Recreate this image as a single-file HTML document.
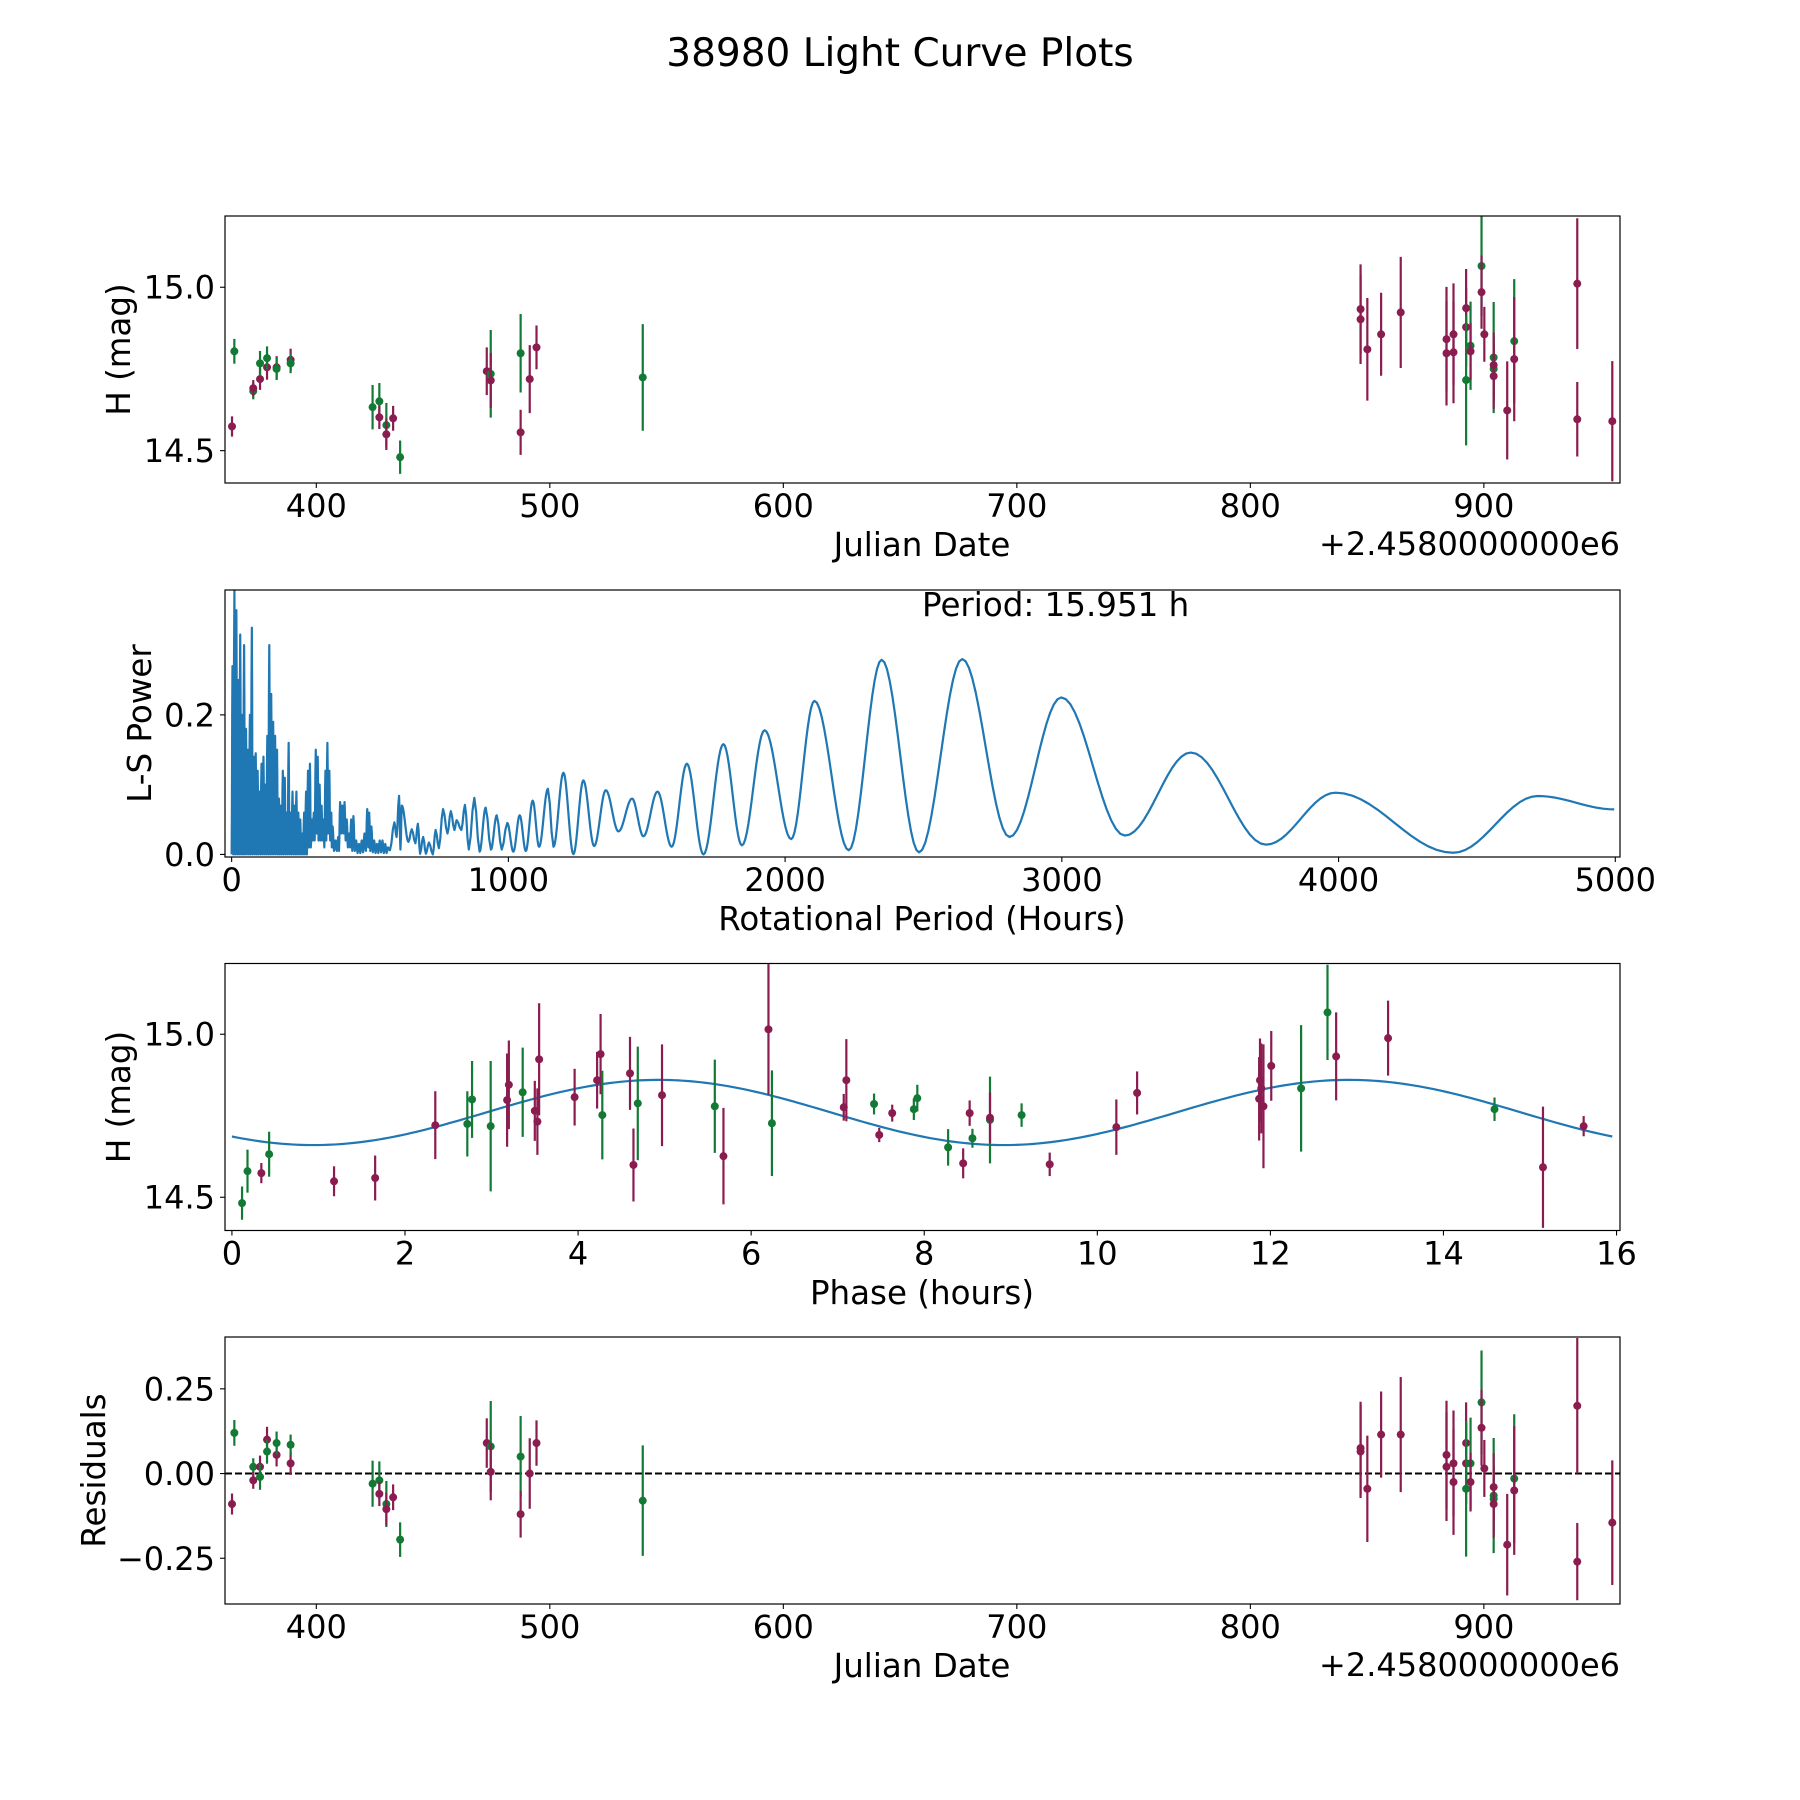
<!DOCTYPE html>
<html><head><meta charset="utf-8"><title>38980 Light Curve Plots</title>
<style>html,body{margin:0;padding:0;background:#fff}svg{display:block}text{font-family:"DejaVu Sans","Liberation Sans",sans-serif;fill:#000}</style>
</head><body>
<svg id="fig" xmlns="http://www.w3.org/2000/svg" width="1800" height="1800" viewBox="0 0 1800 1800">
<rect width="1800" height="1800" fill="#fff"/>
<text x="900" y="66" font-size="39" text-anchor="middle">38980 Light Curve Plots</text>
</svg>
<script>
// ---- Light curve data (JD - 2458000) ----
const jd   = [363.9,364.9,373,373,375.9,375.9,378.9,378.9,383,383,389,389,424.1,427,427,430,430,432.9,435.9,473,474.7,474.7,487.5,487.5,491.4,494.3,539.8,847.2,847.2,850.1,856,864.4,884,884,887,887,892.4,892.4,892.4,894.3,894.3,899,899,900.2,904.2,904.2,904.2,904.2,910,913,913,940,940,955];
const mag  = [14.574,14.804,14.682,14.691,14.719,14.767,14.755,14.783,14.755,14.75,14.778,14.767,14.633,14.651,14.602,14.578,14.55,14.599,14.48,14.743,14.735,14.715,14.798,14.556,14.719,14.816,14.724,14.933,14.902,14.81,14.856,14.923,14.841,14.798,14.856,14.801,14.936,14.878,14.716,14.821,14.804,15.065,14.985,14.856,14.785,14.75,14.762,14.728,14.623,14.835,14.78,15.011,14.596,14.59];
const magErr = [0.031,0.038,0.025,0.025,0.033,0.038,0.038,0.036,0.034,0.034,0.034,0.03,0.068,0.056,0.036,0.068,0.048,0.038,0.051,0.073,0.134,0.084,0.12,0.069,0.104,0.067,0.163,0.137,0.137,0.157,0.127,0.17,0.16,0.16,0.156,0.156,0.12,0.12,0.2,0.135,0.087,0.153,0.112,0.084,0.17,0.1,0.1,0.1,0.15,0.19,0.19,0.2,0.114,0.184];
const filt = ['M','G','G','M','M','G','M','G','M','G','M','G','G','G','M','G','M','M','G','M','G','M','G','M','M','M','G','M','M','M','M','M','M','M','M','M','M','M','G','G','M','G','M','M','G','G','M','M','M','G','M','M','M','M'];
const resid = [-0.09,0.12,0.02,-0.02,0.02,-0.01,0.10,0.065,0.055,0.09,0.03,0.085,-0.03,-0.02,-0.06,-0.09,-0.105,-0.07,-0.195,0.09,0.08,0.005,0.05,-0.12,0.0,0.09,-0.08,0.075,0.065,-0.045,0.115,0.115,0.055,0.02,0.03,-0.025,0.09,0.03,-0.045,0.03,-0.025,0.21,0.135,0.015,-0.065,-0.075,-0.04,-0.09,-0.21,-0.015,-0.05,0.2,-0.26,-0.145];
// ---- Phased data ----
const phase = [0.117,0.18,0.34,0.43,1.18,1.655,2.35,2.72,2.775,2.99,3.18,3.2,3.36,3.5,3.53,3.55,3.96,4.22,4.26,4.28,4.6,4.64,4.69,4.97,5.58,5.68,6.2,6.24,7.07,7.1,7.42,7.48,7.63,7.88,7.92,8.276,8.45,8.557,8.525,8.76,8.76,9.125,9.45,10.22,10.46,11.87,11.88,11.895,11.92,12.01,12.355,12.66,12.76,13.36,14.59,15.15,15.62];
const phMag = [14.482,14.58,14.574,14.632,14.549,14.559,14.721,14.725,14.80,14.718,14.798,14.845,14.822,14.765,14.732,14.923,14.807,14.859,14.939,14.752,14.88,14.599,14.788,14.813,14.779,14.626,15.015,14.727,14.776,14.859,14.786,14.691,14.758,14.77,14.804,14.653,14.604,14.681,14.758,14.737,14.744,14.752,14.601,14.715,14.82,14.802,14.859,14.834,14.779,14.903,14.834,15.067,14.932,14.988,14.77,14.592,14.718];
const phErr = [0.051,0.066,0.031,0.069,0.046,0.069,0.104,0.1,0.118,0.2,0.143,0.136,0.137,0.092,0.102,0.172,0.087,0.087,0.123,0.136,0.112,0.112,0.174,0.156,0.143,0.148,0.2,0.162,0.041,0.126,0.032,0.022,0.026,0.033,0.041,0.056,0.046,0.029,0.039,0.133,0.077,0.036,0.036,0.085,0.066,0.128,0.128,0.138,0.19,0.107,0.194,0.146,0.135,0.115,0.036,0.186,0.031];
const phFilt = ['G','G','M','G','M','M','M','G','G','G','M','M','G','M','M','M','M','M','M','G','M','M','G','M','G','M','M','G','M','M','G','M','M','G','G','G','M','G','M','G','M','G','M','M','M','M','M','M','M','M','G','G','M','M','G','M','M'];
// fitted model parameters
const modelMean = 14.76, modelAmp = 0.10, modelPeakPhase = 4.93, rotPeriod = 15.951;
// ---- Lomb-Scargle periodogram vertices ----
const lsPeriod = [0,3,6,10,13,17,20,24,27,31,34,38,41,45,48,52,55,59,62,66,69,73,76,80,83,87,90,94,97,101,104,108,111,115,118,122,125,129,132,136,139,143,146,150,153,157,160,164,167,171,174,178,181,185,188,192,195,199,202,206,209,213,216,220,223,227,230,234,237,241,244,248,251,255,258,262,265,269,272,276,279,283,286,290,293,297,300,304,307,311,314,318,321,325,328,332,335,339,342,346,349,353,356,360,362,365,370,375,380,385,388,392,396,400,404,408,412,416,420,424,428,432,436,440,445,450,455,460,465,470,475,480,485,490,494,497,501,505,510,515,520,525,530,535,540,545,550,555,560,565,572,588,596,605,610,615,639,651,664,673,681,692,702,713,727,737,749,764,780,792,805,813,830,843,857,877,896,918,937,958,976,996,1018,1041,1063,1088,1111,1143,1163,1199,1235,1271,1310,1352,1398,1447,1488,1539,1590,1645,1705,1777,1844,1926,2022,2106,2230,2349,2484,2640,2811,2998,3228,3466,3738,3989,4414,4720,4996];
const lsPower = [0,0.27,0.0,0.379,0.0,0.35,0.0,0.25,0.0,0.315,0.0,0.2,0.0,0.30,0.0,0.18,0,0.15,0.0,0.2,0,0.325,0.0,0.14,0,0.145,0.0,0.12,0,0.09,0.0,0.13,0,0.14,0.0,0.1,0,0.17,0.0,0.30,0.0,0.23,0.0,0.19,0,0.17,0.0,0.15,0,0.08,0.0,0.07,0,0.12,0.0,0.11,0,0.06,0,0.16,0,0.06,0,0.09,0.0,0.07,0,0.09,0,0.06,0,0.05,0,0.03,0,0.06,0.0,0.09,0,0.12,0.01,0.13,0.01,0.05,0.02,0.06,0.02,0.15,0.03,0.14,0.02,0.1,0.02,0.07,0.02,0.05,0.01,0.12,0.02,0.16,0.03,0.12,0.02,0.06,0.01,0.04,0.005,0.02,0.005,0.025,0.005,0.075,0.03,0.07,0.03,0.075,0.02,0.05,0.01,0.03,0.01,0.05,0.005,0.055,0.005,0.02,0.002,0.015,0.002,0.02,0.003,0.03,0.005,0.065,0.01,0.06,0.005,0.04,0.003,0.02,0.002,0.015,0.002,0.02,0.003,0.02,0.002,0.015,0.002,0.01,0.006,0.046,0.025,0.084,0.007,0.070,0.018,0.036,0.016,0.044,0.001,0.025,0.001,0.017,0,0.035,0.009,0.065,0.03,0.062,0.035,0.049,0.035,0.071,0.007,0.081,0.004,0.067,0.007,0.056,0.007,0.045,0.004,0.056,0.005,0.077,0.011,0.094,0.011,0.117,0.0005,0.106,0.012,0.092,0.033,0.080,0.026,0.090,0.011,0.130,0,0.158,0.013,0.178,0.022,0.22,0.006,0.279,0.003,0.28,0.025,0.225,0.027,0.146,0.014,0.0885,0.0024,0.0837,0.0646];
// ---- ticks ----
const jdTicks = [400,500,600,700,800,900];
const magTicks = [14.5,15.0];
const lsXTicks = [0,1000,2000,3000,4000,5000];
const lsYTicks = [0.0,0.2];
const phTicks = [0,2,4,6,8,10,12,14,16];
const resTicks = [-0.25,0.00,0.25];

const NS='http://www.w3.org/2000/svg';
const svg=document.getElementById('fig');
const COL={M:'#8a1c50',G:'#137a36'};
const TICKFS=32, LABFS=32.5;
function el(tag,attrs,parent){const e=document.createElementNS(NS,tag);for(const k in attrs)e.setAttribute(k,attrs[k]);(parent||svg).appendChild(e);return e;}
function lin(d0,d1,p0,p1){return v=>p0+(v-d0)*(p1-p0)/(d1-d0);}

const L=225,R=1620;
const panels=[[216,483],[590,857],[963.5,1230.5],[1337,1604]];

function makePanel(i,name){
  const [t,b]=panels[i];
  const g=el('g',{});
  
  
  const cp=el('clipPath',{id:'clip'+i},g);
  el('rect',{x:L,y:t,width:R-L,height:b-t},cp);
  const plot=el('g',{'clip-path':'url(#clip'+i+')'},g);
  return {g,plot,t,b};
}
function frame(p){
  const f=el('rect',{x:L,y:p.t,width:R-L,height:p.b-p.t,fill:'none',stroke:'#000','stroke-width':1.2},p.g);
  
  
}
function xTicks(p,ticks,sx,fmt){
  ticks.forEach(v=>{const x=sx(v);
    const ln=el('line',{x1:x,x2:x,y1:p.b,y2:p.b+5,stroke:'#000','stroke-width':1.1},p.g);
    
    
    const tx=el('text',{x:x,y:p.b+34,'font-size':TICKFS,'text-anchor':'middle'},p.g);
    tx.textContent=fmt(v);
    
    
  });
}
function yTicks(p,ticks,sy,fmt){
  ticks.forEach(v=>{const y=sy(v);
    const ln=el('line',{x1:L-5,x2:L,y1:y,y2:y,stroke:'#000','stroke-width':1.1},p.g);
    
    
    const tx=el('text',{x:L-10,y:y+11.5,'font-size':TICKFS,'text-anchor':'end'},p.g);
    tx.textContent=fmt(v);
    
    
  });
}
function label(p,txt,x,y,rot,name){
  const tx=el('text',{x:x,y:y,'font-size':LABFS,'text-anchor':'middle'},p.g);
  if(rot)tx.setAttribute('transform','rotate(-90 '+x+' '+y+')');
  tx.textContent=txt;
  
  
}
function errPoints(p,xs,ys,es,fs,sx,sy,name){
  xs.forEach((xv,k)=>{
    const c=COL[fs[k]];const x=sx(xv);
    const ln=el('line',{x1:x,x2:x,y1:sy(ys[k]-es[k]),y2:sy(ys[k]+es[k]),stroke:c,'stroke-width':2.2},p.plot);
    
    
    const ci=el('circle',{cx:x,cy:sy(ys[k]),r:4,fill:c},p.plot);
    
    
  });
}
const f1=v=>v.toFixed(1);

// Panel 1: light curve
{
  const p=makePanel(0,'light-curve-panel');
  const sx=lin(360.9,958.3,L,R), sy=lin(14.401,15.218,p.b,p.t);
  errPoints(p,jd,mag,magErr,filt,sx,sy,'light-curve');
  frame(p);
  xTicks(p,jdTicks,sx,v=>String(v));
  yTicks(p,magTicks,sy,f1);
  label(p,'Julian Date',922,556,false,'x-axis-title');
  label(p,'H (mag)',130,(p.t+p.b)/2,true,'y-axis-title');
  const o=el('text',{x:R,y:555,'font-size':TICKFS,'text-anchor':'end'},p.g);
  o.textContent='+2.4580000000e6';
  
  
}
// Panel 2: periodogram
{
  const p=makePanel(1,'periodogram-panel');
  const sx=lin(-24,5017,L,R), sy=lin(-0.0037,0.379,p.b,p.t);
  let d='';
  for(let k=0;k<lsPeriod.length;k++){
    if(k===0){d+='M'+sx(lsPeriod[0]).toFixed(2)+' '+sy(lsPower[0]).toFixed(2);continue;}
    const x0=lsPeriod[k-1],x1=lsPeriod[k],y0=lsPower[k-1],y1=lsPower[k];
    const n=(x1-x0)>20?14:3;
    for(let s=1;s<=n;s++){const t=s/n;const e=(1-Math.cos(Math.PI*t))/2;
      d+=' L'+sx(x0+(x1-x0)*t).toFixed(2)+' '+sy(y0+(y1-y0)*e).toFixed(2);}
  }
  const path=el('path',{d:d,fill:'none',stroke:'#1f77b4','stroke-width':2.2,'stroke-linejoin':'round'},p.plot);
  
  
  frame(p);
  xTicks(p,lsXTicks,sx,v=>String(v));
  yTicks(p,lsYTicks,sy,f1);
  label(p,'Rotational Period (Hours)',922,930,false,'x-axis-title');
  label(p,'L-S Power',151,(p.t+p.b)/2,true,'y-axis-title');
  const t=el('text',{x:922,y:616,'font-size':LABFS},p.g);
  t.textContent='Period: '+rotPeriod.toFixed(3)+' h';
  
  
}
// Panel 3: phased light curve
{
  const p=makePanel(2,'phased-curve-panel');
  const sx=lin(-0.08,16.04,L,R), sy=lin(14.398,15.217,p.b,p.t);
  let d='';
  for(let s=0;s<=300;s++){const ph=rotPeriod*s/300;
    const m=modelMean+modelAmp*Math.cos(2*Math.PI*(ph-modelPeakPhase)/(rotPeriod/2));
    d+=(s?' L':'M')+sx(ph).toFixed(2)+' '+sy(m).toFixed(2);}
  const path=el('path',{d:d,fill:'none',stroke:'#1f77b4','stroke-width':2.2},p.plot);
  
  
  errPoints(p,phase,phMag,phErr,phFilt,sx,sy,'phased');
  frame(p);
  xTicks(p,phTicks,sx,v=>String(v));
  yTicks(p,magTicks,sy,f1);
  label(p,'Phase (hours)',922,1304,false,'x-axis-title');
  label(p,'H (mag)',130,(p.t+p.b)/2,true,'y-axis-title');
}
// Panel 4: residuals
{
  const p=makePanel(3,'residuals-panel');
  const sx=lin(360.9,958.3,L,R), sy=lin(-0.385,0.403,p.b,p.t);
  const z=el('line',{x1:L,x2:R,y1:sy(0),y2:sy(0),stroke:'#000','stroke-width':2,'stroke-dasharray':'7,3'},p.plot);
  
  
  errPoints(p,jd,resid,magErr,filt,sx,sy,'residual');
  frame(p);
  xTicks(p,jdTicks,sx,v=>String(v));
  yTicks(p,resTicks,sy,v=>(v<0?'\u2212':'')+Math.abs(v).toFixed(2));
  label(p,'Julian Date',922,1677,false,'x-axis-title');
  label(p,'Residuals',105,(p.t+p.b)/2,true,'y-axis-title');
  const o=el('text',{x:R,y:1676,'font-size':TICKFS,'text-anchor':'end'},p.g);
  o.textContent='+2.4580000000e6';
  
  
}
</script>
</body></html>
